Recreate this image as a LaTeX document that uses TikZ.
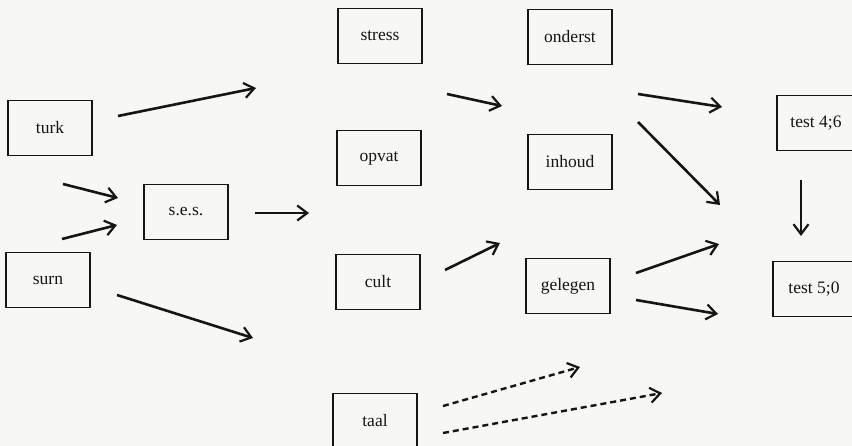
\documentclass[tikz,border=0pt]{standalone}
\usepackage{fontspec}
\setmainfont{Liberation Serif}
\usetikzlibrary{arrows.meta}
\definecolor{paper}{HTML}{F7F7F4}
\definecolor{ink}{HTML}{151515}
\begin{document}
\begin{tikzpicture}[x=1pt,y=-1pt,
  var/.style={draw=ink,line width=1.5pt,minimum width=84pt,minimum height=55pt,
    inner sep=0pt,font=\fontsize{17.5}{20}\selectfont,text=ink},
  path/.style={draw=ink,line width=2.6pt,-{Straight Barb[length=10pt,width=15pt,line width=2.2pt]}},
  weak/.style={path,line width=2.4pt,dash pattern=on 6pt off 4pt}]
\useasboundingbox (0,0) rectangle (852,446);
\clip (0,0) rectangle (852,446);
\fill[paper] (0,0) rectangle (852,446);

% variable boxes
\node[var] (turk)   at (50,128)  {turk};
\node[var] (surn)   at (48,280)  {surn};
\node[var] (ses)    at (186,212) {s.e.s.};
\node[var] (stress) at (380,36)  {stress};
\node[var] (opvat)  at (379,158) {opvat};
\node[var] (cult)   at (378,282) {cult};
\node[var] (taal)   at (375,421) {taal};
\node[var] (onderst) at (570,37) {onderst};
\node[var] (inhoud)  at (570,162) {inhoud};
\node[var] (gelegen) at (568,286) {gelegen};
\node[var,minimum width=78pt] (t46) at (816,123) {test 4;6};
\node[var,minimum width=82pt] (t50) at (814,289) {test 5;0};

% free-standing arrow end points
\coordinate (a1s) at (118,116); \coordinate (a1e) at (256,88);
\coordinate (a2s) at (63,184);  \coordinate (a2e) at (118,198);
\coordinate (a3s) at (62,239);  \coordinate (a3e) at (117,225);
\coordinate (a4s) at (255,213); \coordinate (a4e) at (309,213);
\coordinate (a5s) at (117,295); \coordinate (a5e) at (253,338);
\coordinate (b1s) at (447,94);  \coordinate (b1e) at (502,106);
\coordinate (b2s) at (445,270); \coordinate (b2e) at (500,243);
\coordinate (c1s) at (638,94);  \coordinate (c1e) at (722,107);
\coordinate (c2s) at (638,122); \coordinate (c2e) at (720,205);
\coordinate (c3s) at (636,273); \coordinate (c3e) at (719,244);
\coordinate (c4s) at (636,300); \coordinate (c4e) at (718,314);
\coordinate (d1s) at (801,180); \coordinate (d1e) at (801,236);
\coordinate (e1s) at (443,406); \coordinate (e1e) at (580,367);
\coordinate (e2s) at (443,433); \coordinate (e2e) at (662,393);

% arrows
\draw[path] (a1s) -- (a1e);
\draw[path] (a2s) -- (a2e);
\draw[path] (a3s) -- (a3e);
\draw[path] (a4s) -- (a4e);
\draw[path] (a5s) -- (a5e);
\draw[path] (b1s) -- (b1e);
\draw[path] (b2s) -- (b2e);
\draw[path] (c1s) -- (c1e);
\draw[path] (c2s) -- (c2e);
\draw[path] (c3s) -- (c3e);
\draw[path] (c4s) -- (c4e);
\draw[path,line width=1.8pt] (d1s) -- (d1e);
\draw[weak] (e1s) -- (e1e);
\draw[weak] (e2s) -- (e2e);
\end{tikzpicture}
\end{document}
